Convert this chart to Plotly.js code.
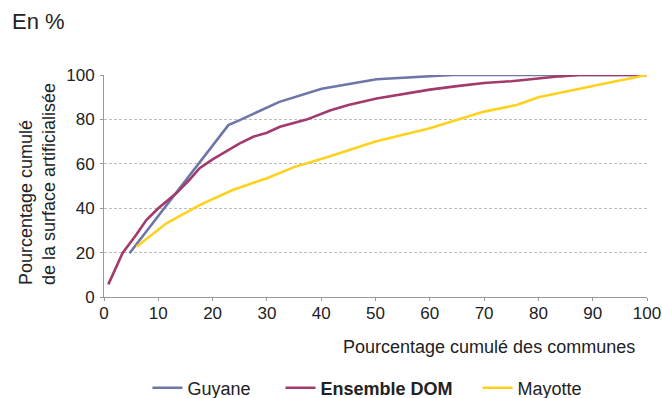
<!DOCTYPE html>
<html><head><meta charset="utf-8">
<script src="https://cdn.plot.ly/plotly-3.0.1.min.js"></script>
<style>html,body{margin:0;padding:0;background:#fff}#chart{width:662px;height:398px}</style>
</head><body><div id="chart"></div>
<script>
const guyaneX = [4.7, 22.9, 25, 32.3, 40.1, 50.2, 64.2, 100];
const guyaneY = [19.7, 77.4, 79.7, 87.9, 93.8, 98.1, 100, 100];

const domX = [0.8, 3.4, 5.9, 7.8, 10, 13.3, 15.7, 17.6, 20, 22.5, 25, 27.5, 30, 32.4, 34.9, 37.3, 41.6, 45, 50.2, 55, 60, 65, 70, 75, 80, 84, 87.5, 100];
const domY = [5.7, 19.7, 27.9, 34.7, 40, 46.7, 52.7, 58, 62, 65.5, 69.2, 72.2, 74, 76.7, 78.5, 79.9, 84, 86.5, 89.4, 91.3, 93.4, 95, 96.4, 97.2, 98.6, 99.4, 100, 100];

const mayotteX = [6, 11.5, 17.6, 23.7, 30, 35, 41.5, 50, 60, 70, 76, 80, 90, 100];
const mayotteY = [22.6, 33.2, 41.4, 48.2, 53.5, 58.5, 63.3, 70, 76, 83.5, 86.5, 90, 95, 100];

const names = ['Guyane\u00a0\u00a0\u00a0\u00a0\u00a0', '<b>Ensemble DOM</b>\u00a0\u00a0\u00a0\u00a0', 'Mayotte'];
const colors = ['#6E76A8', '#A23A6C', '#FDD21E'];
const xTicks = [0,10,20,30,40,50,60,70,80,90,100];
const yTicks = [0,20,40,60,80,100];

const font = 'Liberation Sans, Arial, Helvetica, sans-serif';
const txt = '#222';

const traces = [
  {x: guyaneX, y: guyaneY, name: names[0], mode: 'lines', line: {color: colors[0], width: 2.6}, cliponaxis: false},
  {x: domX, y: domY, name: names[1], mode: 'lines', line: {color: colors[1], width: 2.6}, cliponaxis: false},
  {x: mayotteX, y: mayotteY, name: names[2], mode: 'lines', line: {color: colors[2], width: 2.6}, cliponaxis: false}
];

const layout = {
  width: 662, height: 398,
  margin: {l: 104, r: 15, t: 75, b: 101, autoexpand: false},
  paper_bgcolor: '#fff', plot_bgcolor: '#fff',
  font: {family: font, size: 17, color: txt},
  showlegend: true,
  legend: {orientation: 'h', x: 0.08, xanchor: 'left', y: -0.41, yanchor: 'middle', font: {size: 18, color: txt}},
  xaxis: {
    range: [0, 100], tickvals: xTicks, ticktext: xTicks.map(String),
    showgrid: false, zeroline: false, showline: true, linecolor: '#999', linewidth: 1,
    ticks: 'outside', ticklen: 3, tickcolor: '#999', ticklabelstandoff: -2, tickfont: {size: 17, color: txt}
  },
  yaxis: {
    range: [0, 100], tickvals: yTicks, ticktext: yTicks.map(String),
    showgrid: true, gridcolor: '#bdbdbd', griddash: '3px,2px', gridwidth: 1,
    zeroline: false, showline: true, linecolor: '#999', linewidth: 1,
    ticks: 'outside', ticklen: 3, tickcolor: '#999', ticklabelstandoff: 2, tickfont: {size: 17, color: txt}
  },
  annotations: [
    {text: 'En %', xref: 'paper', yref: 'paper', x: -0.173, y: 1.239, xanchor: 'left', yanchor: 'middle', showarrow: false, font: {size: 22, color: txt}},
    {text: 'Pourcentage cumulé des communes', xref: 'paper', yref: 'paper', x: 0.982, y: -0.225, xanchor: 'right', yanchor: 'middle', showarrow: false, font: {size: 18, color: txt}},
    {text: 'Pourcentage cumulé<br>de la surface artificialisée', xref: 'paper', yref: 'paper', x: -0.1234, y: 0.509, xanchor: 'center', yanchor: 'middle', textangle: -90, align: 'left', showarrow: false, font: {size: 18, color: txt}}
  ]
};

Plotly.newPlot('chart', traces, layout, {displayModeBar: false, staticPlot: true});
</script>
</body></html>
